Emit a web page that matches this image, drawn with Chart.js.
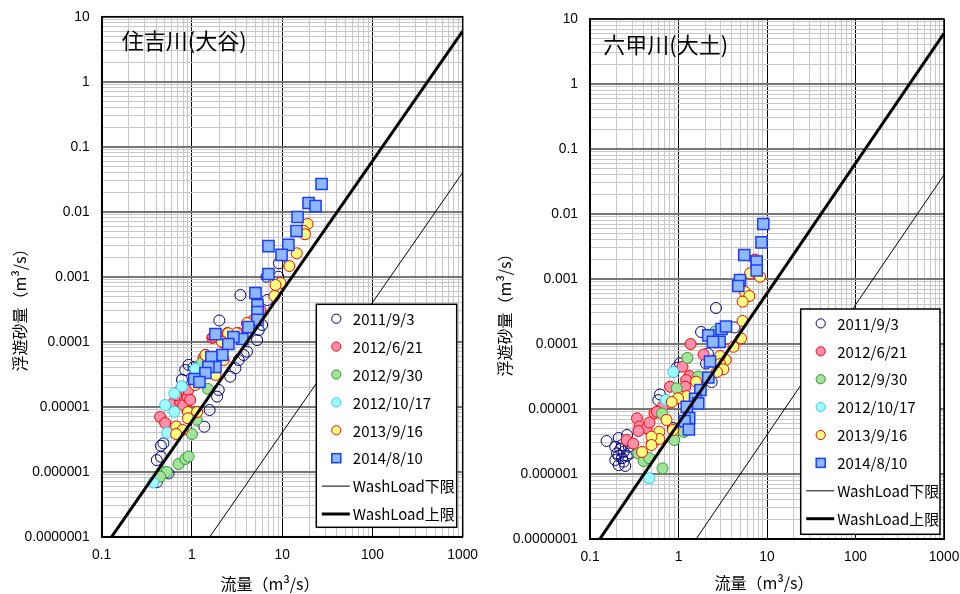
<!DOCTYPE html>
<html><head><meta charset="utf-8">
<script src="https://cdn.jsdelivr.net/npm/chart.js@4.4.1/dist/chart.umd.min.js"></script>
<style>
html,body{margin:0;padding:0;background:#fff;}
#wrap{position:relative;width:960px;height:594px;overflow:hidden;}
canvas{position:absolute;top:0;}
</style></head><body>
<div id="wrap"><canvas id="c1" width="480" height="594" style="left:0"></canvas><canvas id="c2" width="480" height="594" style="left:480px"></canvas></div>
<script>
// ---- tick labels ----
const xTickLabels = ['0.1','1','10','100','1000'];
const yTickLabels = ['0.0000001','0.000001','0.00001','0.0001','0.001','0.01','0.1','1','10'];

// ---- series names ----
const seriesNames = ['2011/9/3','2012/6/21','2012/9/30','2012/10/17','2013/9/16','2014/8/10','WashLoad下限','WashLoad上限'];

// ---- 住吉川(大谷) : flow Q (m3/s) and suspended load Qs (m3/s) ----
const sumi2011Q  = [6.81,3.44,2.01,9.21,6.69,9.07,5.5,5.99,5.27,4.08,3.74,3.03,2.66,1.98,1.9,1.57,1.37,0.843,1.04,0.774,0.483,0.453,0.408,0.453,0.55,0.408,3.3,0.917];
const sumi2011Qs = [4.38e-4,5.22e-4,2.12e-4,1.61e-3,1.0e-3,1.0e-3,1.51e-4,1.81e-4,1.06e-4,7.02e-5,6.24e-5,3.9e-5,2.9e-5,1.81e-5,1.43e-5,8.9e-6,4.92e-6,3.67e-5,4.04e-5,2.6e-5,2.73e-6,2.51e-6,1.51e-6,1.7e-6,9.4e-7,6.9e-7,5.22e-5,4.4e-5];
const sumi2012aQ  = [0.444,0.505,0.62,0.741,0.80,0.887,0.91,0.957,0.704,0.669,1.68,1.41,1.34,2.47,2.23,3.27,4.8,4.12,5.74,1.72];
const sumi2012aQs = [6.95e-6,5.61e-6,1.14e-5,1.18e-5,1.06e-5,1.41e-5,1.81e-5,1.27e-5,1.68e-5,1.51e-5,1.14e-4,6.24e-5,5.58e-5,1.36e-4,9.55e-5,1.36e-4,2.16e-4,1.81e-4,3.08e-4,1.19e-4];
const sumi2012bQ  = [0.464,0.527,0.444,0.71,0.843,0.917,1.0,1.13,1.5,1.29];
const sumi2012bQs = [9.9e-7,9.9e-7,8.4e-7,1.31e-6,1.57e-6,1.71e-6,3.8e-6,6.3e-6,1.88e-5,4.75e-5];
const sumi2012cQ  = [0.372,0.532,0.505,0.641,0.637,0.774,1.09];
const sumi2012cQs = [6.82e-7,3.98e-6,1.06e-5,8.37e-6,1.6e-5,2.06e-5,3.8e-5];
const sumi2013Q  = [19.1,17.4,17.9,14.5,12.0,9.57,8.43,8.2,5.27,4.08,3.11,2.51,2.15,2.25,1.74,1.41,1.82,1.09,0.903,1.14,0.903,0.669,0.786,0.669];
const sumi2013Qs = [6.47e-3,5.05e-3,4.49e-3,2.29e-3,1.46e-3,8.0e-4,7.45e-4,5.05e-4,3.3e-4,1.94e-4,1.35e-4,1.35e-4,1.0e-4,5.22e-5,3.27e-5,6.24e-5,3.08e-5,2.16e-5,8.28e-6,8.28e-6,6.64e-6,4.96e-6,4.38e-6,3.8e-6];
const sumi2014Q  = [27.3,19.6,23.4,14.8,14.4,7.04,11.7,9.83,7.04,5.05,5.32,5.32,5.32,4.22,3.62,2.88,2.53,2.17,1.82,1.64,1.82,1.52,1.41,1.06,1.21];
const sumi2014Qs = [2.67e-2,1.36e-2,1.22e-2,8.28e-3,5.05e-3,2.96e-3,3.08e-3,2.16e-3,1.1e-3,5.61e-4,3.67e-4,2.86e-4,2.16e-4,1.68e-4,1.1e-4,1.18e-4,9.23e-5,6.24e-5,1.31e-4,5.82e-5,4.08e-5,4.08e-5,3.3e-5,2.67e-5,2.4e-5];

// ---- 六甲川(大土) ----
const rokko2011Q  = [2.65,1.8,4.29,2.15,2.05,2.37,1.04,0.954,0.618,0.591,0.154,0.211,0.262,0.193,0.23,0.274,0.202,0.24,0.285,0.193,0.23,0.211,0.25,0.866,0.22,0.21,0.24,0.26];
const rokko2011Qs = [3.58e-4,1.53e-4,1.8e-4,7.14e-5,5.01e-5,2.6e-5,5.05e-5,4.31e-5,1.67e-5,1.37e-5,3.22e-6,3.58e-6,3.98e-6,2.63e-6,2.79e-6,2.63e-6,2.08e-6,2.2e-6,2.08e-6,1.64e-6,1.75e-6,1.37e-6,1.33e-6,5.1e-6,2.4e-6,1.9e-6,1.55e-6,1.9e-6];
const rokko2012aQ  = [7.32,1.37,1.92,1.11,1.33,1.22,1.19,0.802,0.663,0.535,0.34,0.362,0.437,0.47,0.353,0.26,0.308,0.498,0.571];
const rokko2012aQs = [2.0e-3,1.0e-4,6.89e-5,4.48e-5,3.22e-5,2.79e-5,2.2e-5,2.2e-5,1.08e-5,8.59e-6,7.19e-6,5.38e-6,5.05e-6,6.2e-6,4.59e-6,3.33e-6,2.94e-6,2.96e-6,9.08e-6];
const rokko2012bQ  = [1.26,1.67,0.954,0.651,0.897,1.15,0.351,0.404,0.467,0.66,2.58];
const rokko2012bQs = [6.1e-5,3.16e-5,2.08e-5,8.53e-6,3.33e-6,4.43e-6,2.08e-6,1.58e-6,1.75e-6,1.22e-6,1.55e-4];
const rokko2012cQ  = [0.873,0.722,0.467];
const rokko2012cQs = [3.71e-5,1.38e-5,8.6e-7];
const rokko2013Q  = [8.34,6.43,5.64,6.31,5.31,5.29,5.09,4.18,3.41,2.94,2.94,3.21,2.72,1.58,1.24,0.987,0.838,0.732,0.866,0.607,0.607,0.495,0.495,0.387];
const rokko2013Qs = [1.08e-3,1.22e-3,6.3e-4,5.47e-4,4.48e-4,2.26e-4,1.22e-4,9.07e-5,5.68e-5,6.54e-5,4.92e-5,4.08e-5,3.71e-5,2.63e-5,1.58e-5,1.46e-5,1.28e-5,6.78e-6,4.75e-6,4.48e-6,3.46e-6,3.75e-6,2.79e-6,2.18e-6];
const rokko2014Q  = [9.08,8.67,5.54,7.65,7.65,4.95,4.74,2.17,3.06,3.44,2.91,2.45,2.27,2.17,1.77,1.54,1.24,1.67,1.32,1.17,1.31];
const rokko2014Qs = [7.02e-3,3.65e-3,2.34e-3,1.86e-3,1.35e-3,9.66e-4,7.8e-4,1.36e-4,1.7e-4,1.86e-4,1.08e-4,1.08e-4,5.38e-5,3.05e-5,1.96e-5,1.43e-5,1.08e-5,1.22e-5,7.27e-6,6.54e-6,4.84e-6];

// ---- wash load limit lines (endpoints) ----
const washQ = [0.1, 1000];
const washLowerQs = [4e-10, 4e-2];
const washUpperQs = [6e-8, 6];

// ---- styles ----
const FONT_JP = "'Noto Sans CJK JP', 'Noto Sans', sans-serif";
const FONT_NUM = "'Liberation Sans', Arial, sans-serif";
const styles = [
  {type:'circle', fill:'rgba(0,0,0,0)', stroke:'#000080', bw:1},
  {type:'circle', fill:'#ff8fab', stroke:'#ff0000', bw:1},
  {type:'circle', fill:'#a3e29c', stroke:'#2e9a2e', bw:1},
  {type:'circle', fill:'#9ffcff', stroke:'#33ccff', bw:1},
  {type:'circle', fill:'#ffff80', stroke:'#ff0000', bw:1},
  {type:'rect',   fill:'#8fb8ff', stroke:'#1a3cff', bw:1.5},
  {type:'line', stroke:'#000', bw:1},
  {type:'line', stroke:'#000', bw:3}
];

function pts(q, qs){ return q.map((v,i)=>({x:v, y:qs[i]})); }
function decadeVals(labels){ return labels.map(Number); }
function tickVals(labels){
  const d = decadeVals(labels); const out = [];
  for (let i=0;i<d.length;i++){ out.push(d[i]); if (i<d.length-1) for (let k=2;k<=9;k++) out.push(d[i]*k); }
  return out;
}
function isDecade(v){ if(!v) return false; const l=Math.log10(v); return Math.abs(l-Math.round(l))<1e-6; }
function labelFor(labels){
  return (v)=>{ for (const s of labels){ if (Math.abs(Math.log10(v)-Math.log10(Number(s)))<1e-6) return s; } return ''; };
}

function makeChart(canvas, p){
  const series = [p.s2011, p.s2012a, p.s2012b, p.s2012c, p.s2013, p.s2014];
  const datasets = series.map((s,i)=>({
    label: seriesNames[i], data: pts(s[0], s[1]), order: -i,
    pointStyle: styles[i].type, pointRadius: styles[i].type==='rect'?7.9:5.5,
    backgroundColor: styles[i].fill, borderColor: styles[i].stroke, borderWidth: styles[i].bw,
    showLine:false
  }));
  datasets.push({label: seriesNames[6], data: pts(washQ, washLowerQs), order:-6, showLine:true, pointRadius:0, borderColor:'#000', borderWidth:1, fill:false});
  datasets.push({label: seriesNames[7], data: pts(washQ, washUpperQs), order:-7, showLine:true, pointRadius:0, borderColor:'#000', borderWidth:3, fill:false});

  const decor = {
    id:'decor',
    beforeDatasetsDraw(chart){
      const a = chart.chartArea, c = chart.ctx;
      c.save(); c.strokeStyle='#000'; c.lineWidth=1.5;
      c.strokeRect(a.left, a.top, a.right-a.left, a.bottom-a.top);
      c.restore();
    },
    afterDraw(chart){
      const c = chart.ctx; c.save();
      // panel title
      c.fillStyle='#000'; c.font = '22px '+FONT_JP; c.textBaseline='middle'; c.textAlign='left';
      c.fillText(p.title, p.titleX, p.titleY);
      // axis titles
      c.font = '16px '+FONT_JP; c.textAlign='center';
      c.fillText('流量（m³/s）', p.xLabX, p.xLabY);
      c.save(); c.translate(p.yLabX, p.yLabY); c.rotate(-Math.PI/2);
      c.fillText('浮遊砂量（m³/s）', 0, 0); c.restore();
      // legend
      const b = p.legend;
      c.fillStyle='#fff'; c.fillRect(b.l, b.t, b.r-b.l, b.b-b.t);
      c.strokeStyle='#000'; c.lineWidth=1.5; c.strokeRect(b.l, b.t, b.r-b.l, b.b-b.t);
      c.font = '15px '+FONT_JP; c.textAlign='left'; c.textBaseline='middle';
      chart.data.datasets.forEach((ds,i)=>{
        const y = b.t + 14.4 + i*27.9;
        const st = styles[i];
        if (st.type==='line'){
          c.strokeStyle=st.stroke; c.lineWidth=st.bw; c.beginPath(); c.moveTo(b.l+5.5, y); c.lineTo(b.l+33.5, y); c.stroke();
        } else if (st.type==='rect'){
          c.fillStyle=st.fill; c.strokeStyle=st.stroke; c.lineWidth=st.bw;
          c.fillRect(b.l+15.5, y-4.5, 9, 9); c.strokeRect(b.l+15.5, y-4.5, 9, 9);
        } else {
          c.beginPath(); c.arc(b.l+20, y, 4.6, 0, Math.PI*2);
          c.fillStyle=st.fill; c.fill(); c.strokeStyle=st.stroke; c.lineWidth=st.bw; c.stroke();
        }
        c.fillStyle='#000'; c.fillText(ds.label, b.l+36.5, y+0.5);
      });
      c.restore();
    }
  };

  const xv = tickVals(xTickLabels), yv = tickVals(yTickLabels);
  return new Chart(canvas, {
    type:'scatter',
    data:{datasets},
    options:{
      responsive:false, animation:false, devicePixelRatio:1,
      layout:{padding:{top:p.area.top, right:480-p.area.right, left:0, bottom:0}},
      plugins:{legend:{display:false}, tooltip:{enabled:false}},
      scales:{
        x:{type:'logarithmic', min:0.1, max:1000,
          afterBuildTicks:(s)=>{ s.ticks = xv.map(v=>({value:v})); },
          afterFit:(s)=>{ s.height = 594 - p.area.bottom; },
          ticks:{autoSkip:false, maxRotation:0, minRotation:0, padding:0, color:'#000', font:{family:FONT_NUM, size:13.8}, callback: labelFor(xTickLabels)},
          grid:{drawTicks:true, tickLength:10, tickColor:'rgba(0,0,0,0)', color:(ctx)=> isDecade(ctx.tick && ctx.tick.value) ? '#000' : '#c8c8c8', lineWidth:1},
          border:{color:'#000', width:2}
        },
        y:{type:'logarithmic', min:1e-7, max:10,
          afterBuildTicks:(s)=>{ s.ticks = yv.map(v=>({value:v})); },
          afterFit:(s)=>{ s.width = p.area.left; },
          ticks:{autoSkip:false, padding:0, color:'#000', font:{family:FONT_NUM, size:13.8}, callback: labelFor(yTickLabels)},
          grid:{drawTicks:true, tickLength:12, tickColor:'rgba(0,0,0,0)', color:(ctx)=> isDecade(ctx.tick && ctx.tick.value) ? '#777' : '#c8c8c8', lineWidth:(ctx)=> isDecade(ctx.tick && ctx.tick.value) ? 2 : 1},
          border:{color:'#000', width:2}
        }
      }
    },
    plugins:[decor]
  });
}

makeChart(document.getElementById('c1'), {
  s2011:[sumi2011Q,sumi2011Qs], s2012a:[sumi2012aQ,sumi2012aQs], s2012b:[sumi2012bQ,sumi2012bQs],
  s2012c:[sumi2012cQ,sumi2012cQs], s2013:[sumi2013Q,sumi2013Qs], s2014:[sumi2014Q,sumi2014Qs],
  area:{left:101.7, right:462.7, top:16.7, bottom:536.7},
  title:'住吉川(大谷)', titleX:121.7, titleY:41,
  xLabX:270, xLabY:584, yLabX:20, yLabY:306,
  legend:{l:316.3, t:304.3, r:456.7, b:527.3}
});
makeChart(document.getElementById('c2'), {
  s2011:[rokko2011Q,rokko2011Qs], s2012a:[rokko2012aQ,rokko2012aQs], s2012b:[rokko2012bQ,rokko2012bQs],
  s2012c:[rokko2012cQ,rokko2012cQs], s2013:[rokko2013Q,rokko2013Qs], s2014:[rokko2014Q,rokko2014Qs],
  area:{left:110, right:464, top:19, bottom:539},
  title:'六甲川(大土)', titleX:123.3, titleY:45,
  xLabX:284, xLabY:583, yLabX:25, yLabY:311,
  legend:{l:320.7, t:309, r:460, b:534.3}
});
</script>
</body></html>
